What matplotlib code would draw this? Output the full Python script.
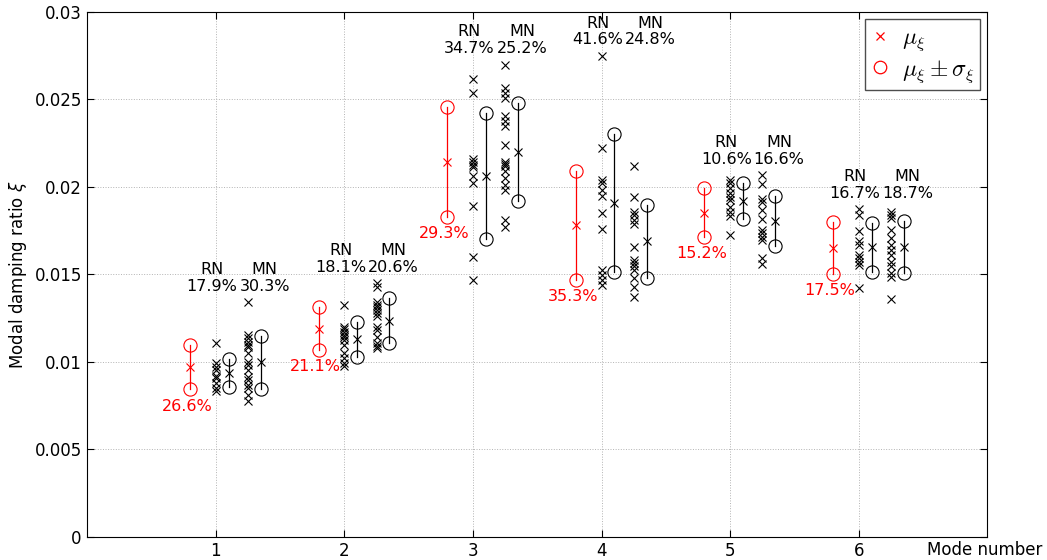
import numpy as np
import matplotlib
matplotlib.use('Agg')
import matplotlib.pyplot as plt
from matplotlib.ticker import FuncFormatter
from matplotlib.lines import Line2D

plt.rcParams['mathtext.fontset'] = 'cm'

###--- Data ---###
modes = [1, 2, 3, 4, 5, 6]

# red: mean and std of the reference estimate
ref_mean = [0.00970, 0.01190, 0.02142, 0.01780, 0.01852, 0.01652]
ref_std = [0.00128, 0.00122, 0.00312, 0.00313, 0.00140, 0.00150]
ref_pct = ['26.6%', '21.1%', '29.3%', '35.3%', '15.2%', '17.5%']

# RN: individual estimates, mean, std, label
rn_vals = [
    [0.01110, 0.00992, 0.00973, 0.00954, 0.00919, 0.00906, 0.00878, 0.00849, 0.00835],
    [0.01326, 0.01201, 0.01187, 0.01173, 0.01154, 0.01141, 0.01125, 0.01097, 0.01053,
     0.01021, 0.00992, 0.00977],
    [0.02617, 0.02537, 0.02159, 0.02144, 0.02126, 0.02113, 0.02060, 0.02022, 0.01888,
     0.01602, 0.01465],
    [0.02750, 0.02222, 0.02041, 0.02025, 0.01983, 0.01949, 0.01850, 0.01759, 0.01526,
     0.01497, 0.01469, 0.01440],
    [0.02041, 0.02025, 0.01993, 0.01965, 0.01942, 0.01926, 0.01884, 0.01854, 0.01831,
     0.01726],
    [0.01873, 0.01840, 0.01745, 0.01688, 0.01669, 0.01612, 0.01593, 0.01573, 0.01554,
     0.01421],
]
rn_mean = [0.00935, 0.01130, 0.02063, 0.01908, 0.01920, 0.01654]
rn_std = [0.00080, 0.00100, 0.00360, 0.00396, 0.00104, 0.00139]
rn_pct = ['17.9%', '18.1%', '34.7%', '41.6%', '10.6%', '16.7%']

# MN: individual estimates, mean, std, label
mn_vals = [
    [0.01341, 0.01154, 0.01135, 0.01116, 0.01097, 0.01084, 0.01049, 0.01001, 0.00982,
     0.00954, 0.00915, 0.00896, 0.00868, 0.00849, 0.00811, 0.00778],
    [0.01450, 0.01427, 0.01344, 0.01326, 0.01312, 0.01297, 0.01281, 0.01259, 0.01201,
     0.01183, 0.01144, 0.01106, 0.01091, 0.01078],
    [0.02699, 0.02565, 0.02537, 0.02508, 0.02403, 0.02374, 0.02346, 0.02241, 0.02145,
     0.02132, 0.02117, 0.02088, 0.02050, 0.02012, 0.01983, 0.01808, 0.01773],
    [0.02117, 0.01945, 0.01859, 0.01840, 0.01812, 0.01789, 0.01656, 0.01583, 0.01564,
     0.01545, 0.01522, 0.01478, 0.01430, 0.01373],
    [0.02069, 0.02018, 0.01930, 0.01911, 0.01869, 0.01816, 0.01755, 0.01736, 0.01716,
     0.01697, 0.01593, 0.01560],
    [0.01859, 0.01840, 0.01822, 0.01755, 0.01707, 0.01669, 0.01640, 0.01612, 0.01573,
     0.01545, 0.01507, 0.01487, 0.01360],
]
mn_mean = [0.00997, 0.01235, 0.02200, 0.01688, 0.01806, 0.01657]
mn_std = [0.00150, 0.00129, 0.00280, 0.00210, 0.00143, 0.00150]
mn_pct = ['30.3%', '20.6%', '25.2%', '24.8%', '16.6%', '18.7%']

###--- Plotting ---###
fig = plt.figure()
fig.set_size_inches(10.47, 5.6)
ax = fig.add_axes([0.0834, 0.0416, 0.8596, 0.937])

msx = 6.0   # cross size
mso = 9.5   # circle size
mw = 0.8    # marker edge width
tfs = 12    # tick font size
afs = 11.5  # annotation font size

def mean_bar(ax, x, m, s, col):
    ax.plot([x, x], [m - s, m + s], color=col, lw=0.9, zorder=3)
    ax.plot([x], [m], 'x', color=col, ms=msx, mew=mw, zorder=4)
    ax.plot([x, x], [m - s, m + s], 'o', mfc='none', mec=col, ms=mso, mew=mw, zorder=4)

for i, md in enumerate(modes):
    # reference (red)
    mean_bar(ax, md - 0.2, ref_mean[i], ref_std[i], 'r')
    ax.text(md - 0.225, ref_mean[i] - ref_std[i] - 0.00095, ref_pct[i],
            color='r', fontsize=afs, ha='center', va='center')

    # RN scatter and mean bar
    ax.plot(np.full(len(rn_vals[i]), md), rn_vals[i], 'x', color='k', ms=msx, mew=mw, zorder=4)
    mean_bar(ax, md + 0.1, rn_mean[i], rn_std[i], 'k')

    # MN scatter and mean bar
    ax.plot(np.full(len(mn_vals[i]), md + 0.25), mn_vals[i], 'x', color='k', ms=msx, mew=mw, zorder=4)
    mean_bar(ax, md + 0.35, mn_mean[i], mn_std[i], 'k')

    ytop = max(max(rn_vals[i]), max(mn_vals[i])) + 0.0009
    ax.text(md - 0.03, ytop, rn_pct[i], fontsize=afs, ha='center', va='center')
    ax.text(md - 0.03, ytop + 0.00097, 'RN', fontsize=afs, ha='center', va='center')
    ax.text(md + 0.38, ytop, mn_pct[i], fontsize=afs, ha='center', va='center')
    ax.text(md + 0.38, ytop + 0.00097, 'MN', fontsize=afs, ha='center', va='center')

ax.set_xlim(0, 7)
ax.set_ylim(0, 0.03)
ax.set_xticks(modes)
ax.set_yticks(np.arange(0, 0.0301, 0.005))
ax.yaxis.set_major_formatter(FuncFormatter(lambda v, pos: '{:g}'.format(round(v, 4))))
ax.tick_params(axis='both', direction='in', length=5, labelsize=tfs, top=True, right=True, pad=4)
ax.grid(True, color='0.7', ls=':', lw=0.7)
ax.set_axisbelow(True)

ax.set_ylabel(r'Modal damping ratio $\xi$', fontsize=tfs, math_fontfamily='dejavusans')
ax.text(0.933, -0.008, 'Mode number', fontsize=tfs, ha='left', va='top', transform=ax.transAxes)

##-- Legend --##
h1 = Line2D([], [], ls='none', marker='x', color='r', ms=5.5, mew=0.9)
h2 = Line2D([], [], ls='none', marker='o', mfc='none', mec='r', ms=9, mew=0.9)
leg = ax.legend([h1, h2], [r'$\mu_\xi$', r'$\mu_\xi \pm \sigma_\xi$'], loc='upper right',
                fontsize=17, fancybox=False, framealpha=1, edgecolor='0.3',
                handlelength=0.7, handletextpad=0.6, borderaxespad=0.3, borderpad=0.25,
                labelspacing=0.15)
leg.get_frame().set_linewidth(1)

fig.savefig('out.png', dpi=100)
